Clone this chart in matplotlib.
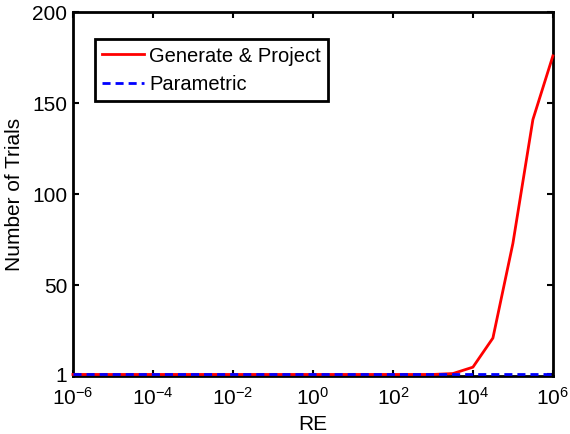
import numpy as np
import matplotlib
matplotlib.use("Agg")
import matplotlib.pyplot as plt

plt.rcParams["font.family"] = ["Liberation Sans", "DejaVu Sans"]

# data
re_exp = [-6, -5.5, -5, -4.5, -4, -3.5, -3, -2.5, -2, -1.5, -1, -0.5, 0, 0.5, 1, 1.5,
          2, 2.5, 3, 3.5, 4, 4.5, 5, 5.5, 6]
gen_project = [1, 1, 1, 1, 1, 1, 1, 1, 1, 1, 1, 1, 1, 1, 1, 1,
               1, 1, 1, 1.5, 5, 21, 73, 141, 176]
parametric = [1] * len(re_exp)
re_vals = [10.0 ** e for e in re_exp]

x_ticks = [1e-6, 1e-4, 1e-2, 1e0, 1e2, 1e4, 1e6]
y_ticks = [1, 50, 100, 150, 200]

fig = plt.figure(figsize=(5.7, 4.34), dpi=100)
ax = fig.add_axes([0.128, 0.133, 0.842, 0.839])

ax.plot(re_vals, gen_project, color="red", linewidth=2, label="Generate & Project",
        zorder=3, clip_on=False)
ax.plot(re_vals, parametric, color="blue", linewidth=2, linestyle=(0, (2.9, 1.8)),
        label="Parametric", zorder=4, clip_on=False)

ax.set_xscale("log")
ax.set_xlim(1e-6, 1e6)
ax.set_ylim(0, 200)
ax.set_xticks(x_ticks)
ax.set_yticks(y_ticks)
ax.set_yticklabels([str(v) for v in y_ticks])
ax.minorticks_off()
ax.tick_params(direction="in", length=4, width=1.5, top=True, right=True,
               labelsize=15, pad=4)
ax.tick_params(axis="x", pad=8)
for s in ax.spines.values():
    s.set_linewidth(2)
    s.set_zorder(2)

ax.set_xlabel("RE", fontsize=15, labelpad=4)
ax.set_ylabel("Number of Trials", fontsize=15, labelpad=6)

leg = ax.legend(loc="upper left", bbox_to_anchor=(0.046, 0.925), fontsize=14.5,
                fancybox=False, edgecolor="black", framealpha=1,
                handlelength=2.1, handletextpad=0.25, borderpad=0.35,
                labelspacing=0.45, borderaxespad=0)
leg.get_frame().set_linewidth(2)
leg.set_zorder(5)

fig.savefig("out.png", dpi=100)
